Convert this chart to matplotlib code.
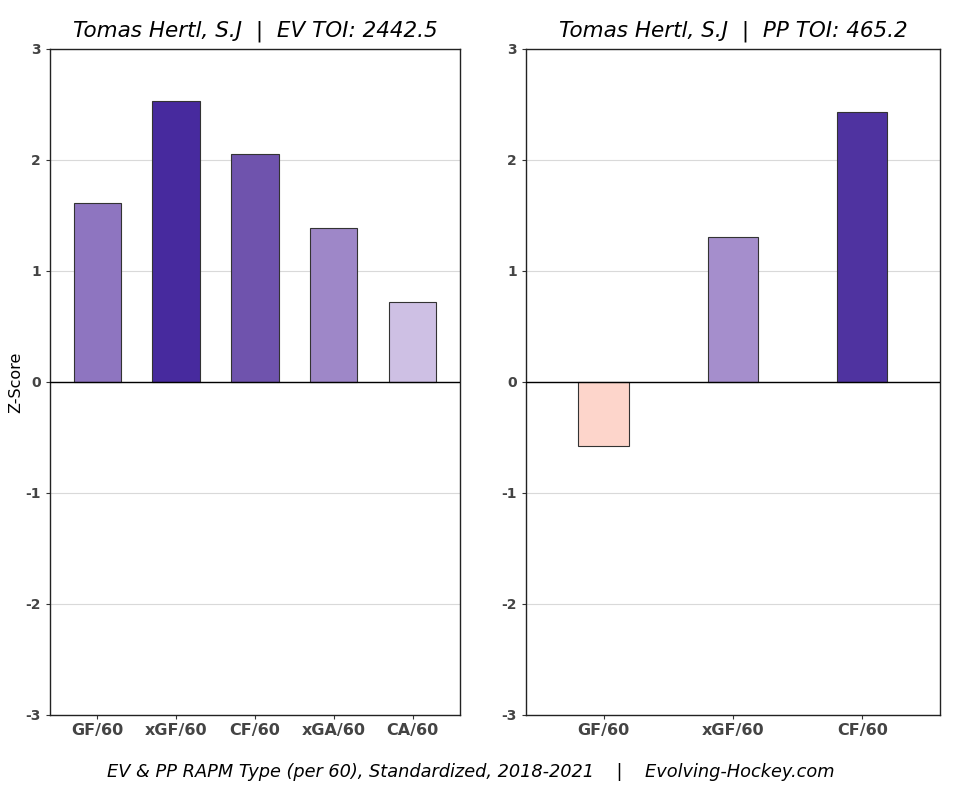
import numpy as np
import matplotlib.pyplot as plt

plt.rcParams["axes.unicode_minus"] = False

ev_labels = ["GF/60", "xGF/60", "CF/60", "xGA/60", "CA/60"]
ev_values = [1.61, 2.53, 2.05, 1.39, 0.72]
ev_colors = ["#8E75C0", "#472A9E", "#6F53AD", "#9E87C8", "#CEC0E4"]

pp_labels = ["GF/60", "xGF/60", "CF/60"]
pp_values = [-0.58, 1.31, 2.43]
pp_colors = ["#FDD5CB", "#A58ECC", "#4F33A0"]

ev_title = "Tomas Hertl, S.J  |  EV TOI: 2442.5"
pp_title = "Tomas Hertl, S.J  |  PP TOI: 465.2"
footer = "EV & PP RAPM Type (per 60), Standardized, 2018-2021    |    Evolving-Hockey.com"

fig = plt.figure(figsize=(9.6, 7.9), dpi=100)
ax1 = fig.add_axes([0.052, 0.095, 0.427, 0.843])
ax2 = fig.add_axes([0.548, 0.095, 0.431, 0.843])


def draw_panel(ax, labels, values, colors, width, title):
    x = np.arange(len(labels))
    ax.bar(x, values, width=width, color=colors, edgecolor="#333333",
           linewidth=0.8, zorder=3)
    ax.axhline(0, color="black", linewidth=1.0, zorder=4)
    ax.set_xlim(-0.6, len(labels) - 0.4)
    ax.set_ylim(-3, 3)
    ax.set_yticks(range(-3, 4))
    ax.yaxis.grid(True, color="#d9d9d9", linewidth=0.8, zorder=0)
    ax.set_xticks(x)
    ax.set_xticklabels(labels, fontsize=11.5, fontweight="bold", color="#444444")
    for t in ax.get_yticklabels():
        t.set_fontweight("bold")
        t.set_color("#444444")
        t.set_fontsize(10)
    ax.tick_params(axis="both", length=3, color="#333333")
    ax.tick_params(axis="x", pad=2.5)
    for s in ax.spines.values():
        s.set_color("#222222")
        s.set_linewidth(1.0)
    ax.set_title(title, fontsize=15.5, style="italic", pad=9)


draw_panel(ax1, ev_labels, ev_values, ev_colors, 0.6, ev_title)
draw_panel(ax2, pp_labels, pp_values, pp_colors, 0.39, pp_title)
ax1.set_ylabel("Z-Score", fontsize=11.5)
ax1.yaxis.set_label_coords(-0.064, 0.5)

fig.text(0.49, 0.016, footer, ha="center", fontsize=12.8, style="italic")

fig.savefig("out.png", dpi=100)
